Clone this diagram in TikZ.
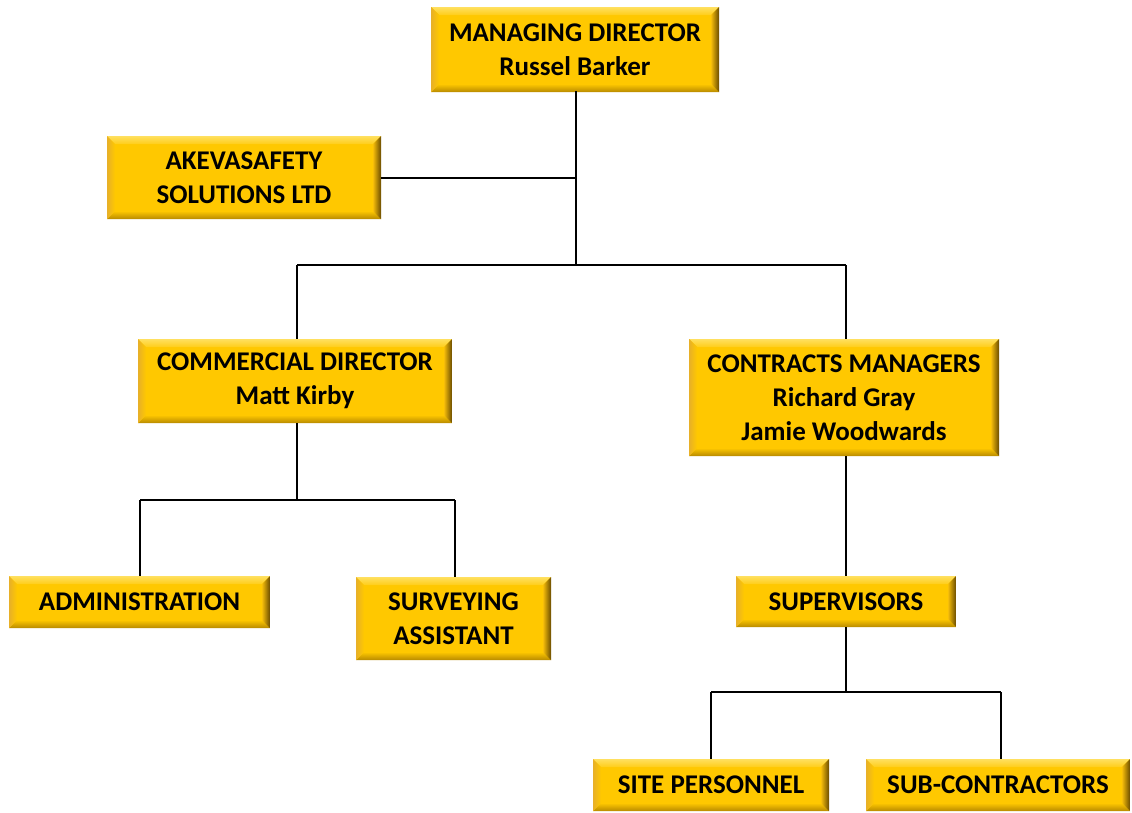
\documentclass[tikz,border=0pt]{standalone}
\usepackage{fontspec}
\setmainfont{Carlito}
\usetikzlibrary{calc}
\definecolor{gold}{HTML}{FFC800}
\definecolor{bvlight}{HTML}{FFE060}
\definecolor{bvleft}{HTML}{F5C020}
\definecolor{bvbottom}{HTML}{B88A00}
\definecolor{bvright}{HTML}{6A4C00}
\tikzset{
  orgbox/.style={fill=gold, inner sep=0pt, align=center,
    font=\fontsize{27}{34}\selectfont\bfseries,
    path picture={
      \path (path picture bounding box.south west) coordinate (bvsw)
            (path picture bounding box.north east) coordinate (bvne)
            (bvsw |- bvne) coordinate (bvnw)
            (bvne |- bvsw) coordinate (bvse);
      \shade[top color=bvlight, bottom color=gold!90!white] (bvnw) -- (bvne) -- ([shift={(-8pt,-8pt)}]bvne) -- ([shift={(8pt,-8pt)}]bvnw) -- cycle;
      \shade[top color=gold, bottom color=bvbottom] (bvsw) -- (bvse) -- ([shift={(-8pt,8pt)}]bvse) -- ([shift={(8pt,8pt)}]bvsw) -- cycle;
      \shade[left color=bvleft!75!brown, right color=gold] (bvnw) -- (bvsw) -- ([shift={(8pt,8pt)}]bvsw) -- ([shift={(8pt,-8pt)}]bvnw) -- cycle;
      \shade[left color=gold!85!brown, right color=bvright] (bvne) -- (bvse) -- ([shift={(-8pt,8pt)}]bvse) -- ([shift={(-8pt,-8pt)}]bvne) -- cycle;
    }},
  conn/.style={line width=1.5pt, black}
}
\begin{document}
\begin{tikzpicture}[x=1pt,y=-1pt]
\useasboundingbox (0,0) rectangle (1132,812);
\node[orgbox, minimum width=288pt, minimum height=85pt] (md) at (575,49.5) {MANAGING DIRECTOR\\Russel Barker};
\node[orgbox, minimum width=274pt, minimum height=83pt] (ak) at (244,177.5) {AKEVASAFETY\\SOLUTIONS LTD};
\node[orgbox, minimum width=314pt, minimum height=84pt] (cd) at (295,381) {COMMERCIAL DIRECTOR\\Matt Kirby};
\node[orgbox, minimum width=310pt, minimum height=117pt] (cm) at (844,397.5) {CONTRACTS MANAGERS\\Richard Gray\\Jamie Woodwards};
\node[orgbox, minimum width=261pt, minimum height=52pt] (ad) at (139.5,602) {ADMINISTRATION};
\node[orgbox, minimum width=195pt, minimum height=83pt] (sa) at (453.5,618.5) {SURVEYING\\ASSISTANT};
\node[orgbox, minimum width=220pt, minimum height=51pt] (sv) at (846,601.5) {SUPERVISORS};
\node[orgbox, minimum width=236pt, minimum height=52pt] (sp) at (711,785) {SITE PERSONNEL};
\node[orgbox, minimum width=264pt, minimum height=52pt] (sc) at (998,785) {SUB-CONTRACTORS};

\coordinate (mdb) at (576,91);
\coordinate (j0) at (576,178);
\coordinate (j1) at (576,265);
\coordinate (j1l) at (297,265);
\coordinate (j1r) at (846,265);
\coordinate (cdb) at (297,423);
\coordinate (j2) at (297,500);
\coordinate (j2l) at (140,500);
\coordinate (j2r) at (455,500);
\coordinate (cmb) at (846,456);
\coordinate (svb) at (846,627);
\coordinate (j3) at (846,692);
\coordinate (j3l) at (711,692);
\coordinate (j3r) at (1001,692);

\draw[conn] (mdb) -- (j1);
\draw[conn] (j0) -- (ak.east |- j0);
\draw[conn] (j1l) -- (j1r);
\draw[conn] (j1l) -- (j1l |- cd.north);
\draw[conn] (j1r) -- (j1r |- cm.north);
\draw[conn] (cdb) -- (j2);
\draw[conn] (j2l) -- (j2r);
\draw[conn] (j2l) -- (j2l |- ad.north);
\draw[conn] (j2r) -- (j2r |- sa.north);
\draw[conn] (cmb) -- (cmb |- sv.north);
\draw[conn] (svb) -- (j3);
\draw[conn] (j3l) -- (j3r);
\draw[conn] (j3l) -- (j3l |- sp.north);
\draw[conn] (j3r) -- (j3r |- sc.north);
\end{tikzpicture}
\end{document}
